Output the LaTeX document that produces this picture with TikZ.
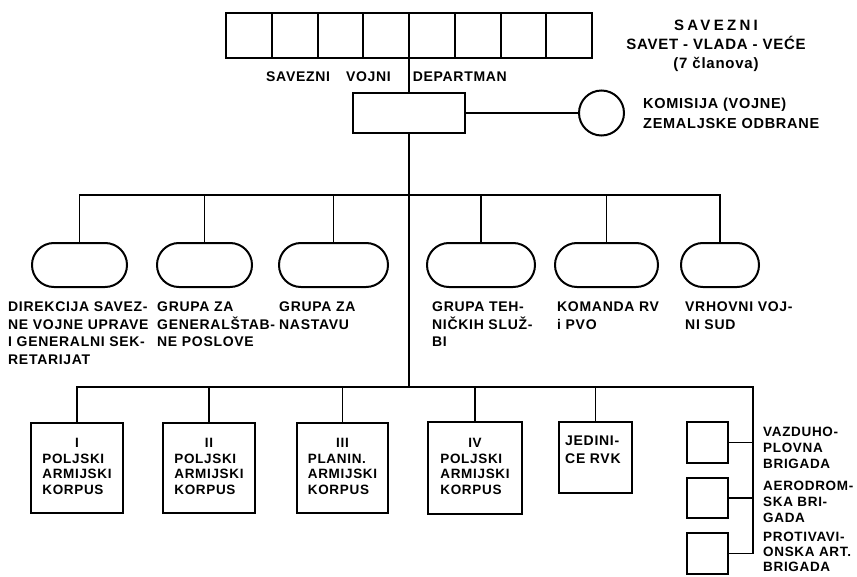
\documentclass[tikz,border=0pt]{standalone}
\usepackage{fontspec}
\newfontfamily\lsb{Liberation Sans}[LetterSpace=5]
\newcommand\setfs[2]{\fontsize{#1}{#2}\selectfont}
\begin{document}
\begin{tikzpicture}[x=1pt,y=-1pt,
  frame/.style={draw, line width=2pt, inner sep=0pt},
  conn/.style={line width=1.3pt},
  pill/.style={draw, line width=2pt, minimum height=44pt, rounded corners=21.9pt, inner sep=0pt},
  txt/.style={inner sep=0pt, align=left, anchor=north west, font=\lsb\bfseries\setfs{14}{17.5}},
  corps/.style={frame, font=\lsb\bfseries\setfs{13.5}{15.5}},
  rlab/.style={txt, font=\lsb\bfseries\setfs{13.5}{16}}
]
\useasboundingbox[fill=white] (0,0) rectangle (857,576);

% federal council cells
\foreach \i in {1,...,8}
  \node[frame, minimum width=45.75pt, minimum height=45pt] (c\i) at ({226+45.75*(\i-0.5)}, 35.5) {};

\node[inner sep=0pt, anchor=base west, font=\lsb\bfseries\setfs{14}{17}] (svd) at (266,81)
  {SAVEZNI\hspace{16pt}VOJNI\hspace{22pt}DEPARTMAN};

\node[inner sep=0pt, align=center, anchor=north, font=\lsb\bfseries\setfs{15}{19}] (sav) at (716,19.5)
  {{\addfontfeature{LetterSpace=22}SAVEZNI}\\SAVET - VLADA - VEĆE\\(7 članova)};

% department
\node[frame, minimum width=112pt, minimum height=40pt] (dept) at (409,113) {};
\node[draw, circle, line width=2pt, minimum size=45pt, inner sep=0pt] (kom) at (601.5,113) {};
\node[txt, font=\lsb\bfseries\setfs{14.5}{20}] (komt) at (643,97.5) {KOMISIJA (VOJNE)\\ZEMALJSKE ODBRANE};

\coordinate (tbus) at (409,195);
\coordinate (bbus) at (753,387);

\draw[conn] (dept.north |- c4.south) -- (dept.north);
\draw[conn] (dept.east) -- (kom.west);
\draw[conn] (dept.south) -- (dept.south |- bbus);

% pills
\node[pill, minimum width=95pt]  (p1) at (79.5,265) {};
\node[pill, minimum width=95pt]  (p2) at (204.5,265) {};
\node[pill, minimum width=109pt] (p3) at (333.5,265) {};
\node[pill, minimum width=108pt] (p4) at (481,265) {};
\node[pill, minimum width=103pt] (p5) at (606.5,265) {};
\node[pill, minimum width=78pt]  (p6) at (720,265) {};

\draw[conn] (p1.north) -- (p1.north |- tbus) -- (p6.north |- tbus) -- (p6.north);
\foreach \p in {p2,p3,p4,p5}
  \draw[conn] (\p.north) -- (\p.north |- tbus);

\node[txt] (l1) at (8,302)   {DIREKCIJA SAVEZ-\\NE VOJNE UPRAVE\\I GENERALNI SEK-\\RETARIJAT};
\node[txt] (l2) at (157,302) {GRUPA ZA\\GENERALŠTAB-\\NE POSLOVE};
\node[txt] (l3) at (279,302) {GRUPA ZA\\NASTAVU};
\node[txt] (l4) at (432,302) {GRUPA TEH-\\NIČKIH SLUŽ-\\BI};
\node[txt] (l5) at (557,302) {KOMANDA RV\\i PVO};
\node[txt] (l6) at (685,302) {VRHOVNI VOJ-\\NI SUD};

% corps
\node[corps, minimum width=92pt, minimum height=90pt] (k1) at (77,468)
  {\begin{tabular}{@{}l@{}}\multicolumn{1}{@{}c@{}}{I}\\POLJSKI\\ARMIJSKI\\KORPUS\end{tabular}};
\node[corps, minimum width=92pt, minimum height=90pt] (k2) at (209,468)
  {\begin{tabular}{@{}l@{}}\multicolumn{1}{@{}c@{}}{II}\\POLJSKI\\ARMIJSKI\\KORPUS\end{tabular}};
\node[corps, minimum width=91pt, minimum height=90pt] (k3) at (342.5,468)
  {\begin{tabular}{@{}l@{}}\multicolumn{1}{@{}c@{}}{III}\\PLANIN.\\ARMIJSKI\\KORPUS\end{tabular}};
\node[corps, minimum width=94pt, minimum height=92pt] (k4) at (475,468)
  {\begin{tabular}{@{}l@{}}\multicolumn{1}{@{}c@{}}{IV}\\POLJSKI\\ARMIJSKI\\KORPUS\end{tabular}};
\node[frame, minimum width=73pt, minimum height=71pt] (k5) at (595.5,457.5) {};
\node[txt, font=\lsb\bfseries\setfs{14}{18}] (k5t) at (565,436) {JEDINI-\\CE RVK};

\node[frame, minimum width=41pt, minimum height=41pt] (s1) at (707.5,442.5) {};
\node[frame, minimum width=41pt, minimum height=40pt] (s2) at (707.5,498) {};
\node[frame, minimum width=41pt, minimum height=41pt] (s3) at (707.5,553.5) {};

\draw[conn] (k1.north) |- (bbus) -- (bbus |- s3.east) -- (s3.east);
\foreach \k in {k2,k3,k4,k5}
  \draw[conn] (\k.north) -- (\k.north |- bbus);
\draw[conn] (s1.east) -- (s1.east -| bbus);
\draw[conn] (s2.east) -- (s2.east -| bbus);

\node[rlab] (r1) at (763,427) {VAZDUHO-\\PLOVNA\\BRIGADA};
\node[rlab] (r2) at (763,481) {AERODROM-\\SKA BRI-\\GADA};
\node[rlab, font=\lsb\bfseries\setfs{13.5}{15}] (r3) at (763,532) {PROTIVAVI-\\ONSKA ART.\\BRIGADA};
\end{tikzpicture}
\end{document}
